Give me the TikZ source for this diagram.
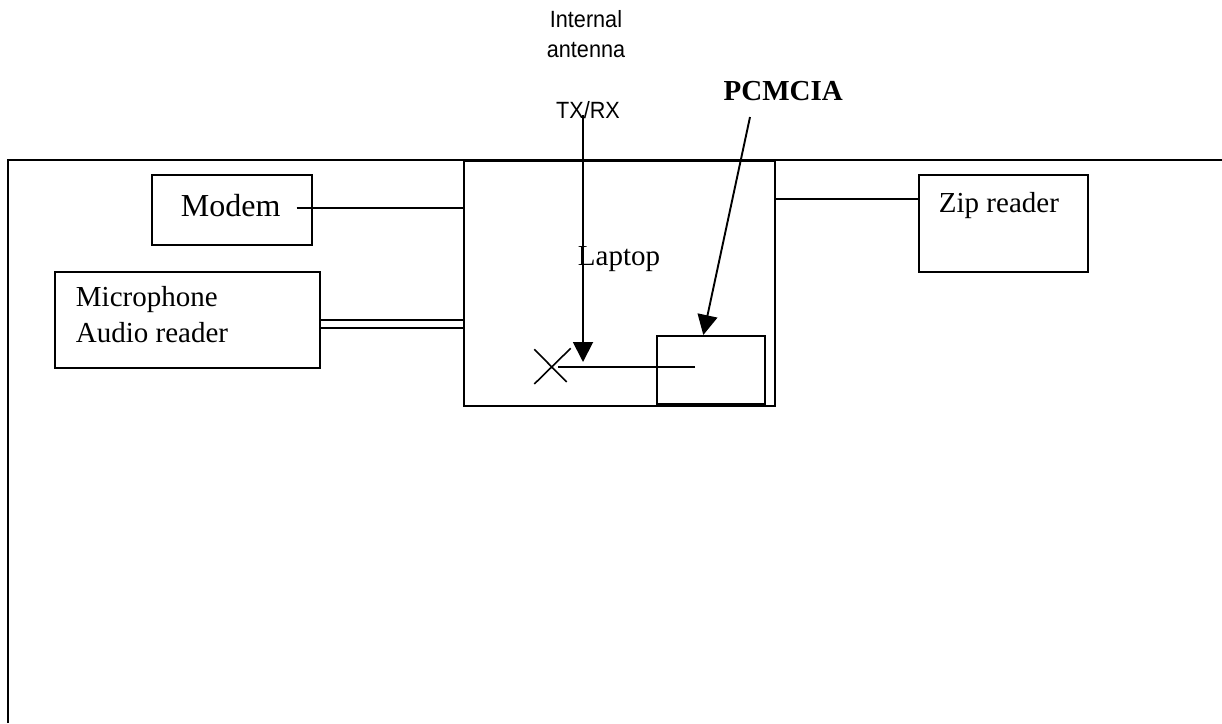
\documentclass[tikz,border=0pt]{standalone}
\usepackage{fontspec}
\setmainfont{Liberation Serif}
\setsansfont{Liberation Sans}[FakeStretch=0.92]
\usetikzlibrary{arrows.meta}
\begin{document}
\begin{tikzpicture}[x=1pt,y=-1pt, line width=1.9pt,
  box/.style={draw, rectangle, inner sep=0pt, anchor=north west},
  lbl/.style={anchor=base west, inner sep=0pt, font=\fontsize{29}{34}\selectfont},
  slbl/.style={anchor=base, inner sep=0pt, font=\sffamily\fontsize{23.5}{28}\selectfont},
  arr/.style={-{Triangle[length=20pt,width=20pt]}}]
\useasboundingbox (0,0) rectangle (1222,723);
% outer frame (open to the right and bottom)
\draw (8,723) -- (8,160) -- (1222,160);
% boxes
\node[box, minimum width=311.3pt, minimum height=245pt] (laptop) at (462.7,160) {};
\node[box, minimum width=160.3pt, minimum height=69.7pt] (modem) at (150.7,174.3) {};
\node[box, minimum width=265pt, minimum height=96pt] (mic) at (54,271) {};
\node[box, minimum width=168.7pt, minimum height=97pt] (zip) at (918,174) {};
\node[box, minimum width=108.3pt, minimum height=67.7pt] (pcm) at (655.7,335) {};
% texts
\node[lbl, font=\fontsize{32}{38}\selectfont] (modemtxt) at (180,216.7) {Modem};
\node[lbl] (mictxt) at (75,306.7) {Microphone};
\node[lbl] (audtxt) at (75,342.7) {Audio reader};
\node[lbl] (ziptxt) at (938,212.7) {Zip reader};
\node[lbl] (laptxt) at (577,265) {Laptop};
\node[lbl, font=\bfseries\fontsize{29}{34}\selectfont] (pcmtxt) at (722.7,100.7) {PCMCIA};
\node[slbl] (int) at (586,27) {Internal};
\node[slbl] (antn) at (586,57) {antenna};
\node[slbl] (txrx) at (588,118) {TX/RX};
% connectors
\coordinate (mstart) at (296.7,208);
\draw (mstart) -- ([xshift=2.3pt]laptop.west |- mstart);
\draw (mic.east |- 0,320) -- (laptop.west |- 0,320);
\draw (mic.east |- 0,327.7) -- (laptop.west |- 0,327.7);
\draw (laptop.east |- 0,199.3) -- (zip.west |- 0,199.3);
% antenna
\coordinate (antop) at (583,115);
\coordinate (antend) at (583,362);
\draw[arr] (antop) -- (antend);
% PCMCIA arrow
\coordinate (ptop) at (750,117);
\draw[arr] (ptop) -- (703.3,335);
% X mark and feed line
\coordinate (xc) at (552,366.5);
\draw[line width=1.6pt] (534.3,384) -- (570.7,348.3);
\draw[line width=1.6pt] (534.3,349.3) -- (566.7,382);
\coordinate (feed) at (695,367);
\draw (feed) -- (558,367);
\end{tikzpicture}
\end{document}
